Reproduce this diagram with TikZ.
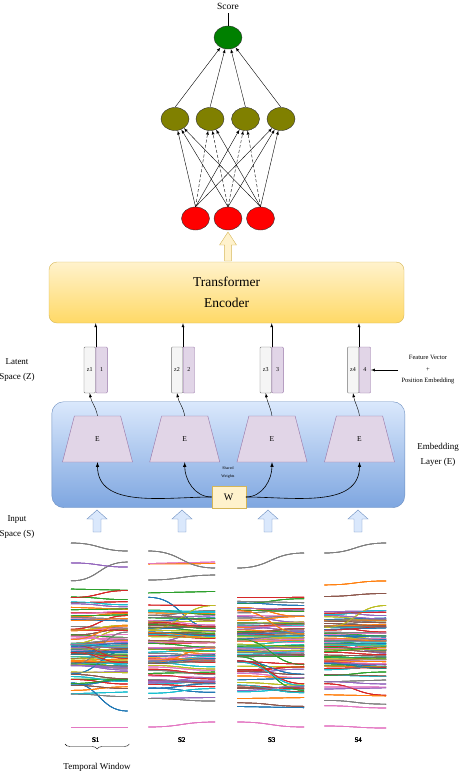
\documentclass[tikz,border=0pt]{standalone}
\usepackage{fontspec}
\setmainfont{Liberation Serif}
\usetikzlibrary{arrows,shapes.geometric,decorations.pathreplacing}
\definecolor{tab0}{HTML}{1F77B4}\definecolor{tab1}{HTML}{FF7F0E}
\definecolor{tab2}{HTML}{2CA02C}\definecolor{tab3}{HTML}{D62728}
\definecolor{tab4}{HTML}{9467BD}\definecolor{tab5}{HTML}{8C564B}
\definecolor{tab6}{HTML}{E377C2}\definecolor{tab7}{HTML}{7F7F7F}
\definecolor{tab8}{HTML}{BCBD22}\definecolor{tab9}{HTML}{17BECF}
\definecolor{ylwF}{HTML}{FFF2CC}\definecolor{ylwB}{HTML}{FFD966}\definecolor{ylwD}{HTML}{D6B656}
\definecolor{bluF}{HTML}{DAE8FC}\definecolor{bluB}{HTML}{7EA6E0}\definecolor{bluD}{HTML}{6C8EBF}
\definecolor{prpF}{HTML}{E1D5E7}\definecolor{prpD}{HTML}{9673A6}
\definecolor{olv}{HTML}{808000}\definecolor{grn}{HTML}{008000}
\newcommand\fs[2]{\fontsize{#1}{#2}\selectfont}
% block arrow: x, tip y, base y, half head, head length, style
\newcommand\blockup[6]{\draw[#6](#1,#2)--({#1+#4},{#2+#5})--({#1+0.4*#4},{#2+#5})--({#1+0.4*#4},#3)
  --({#1-0.4*#4},#3)--({#1-0.4*#4},{#2+#5})--({#1-#4},{#2+#5})--cycle;}

\begin{document}
\begin{tikzpicture}[x=1pt,y=-1pt,thin,>=latex,
  neuron/.style={ellipse,draw=black!80,minimum width=28pt,minimum height=23pt,inner sep=0pt},
  feat/.style={draw=black!55,fill=black!4,rounded corners=1pt,minimum width=11.5pt,minimum height=46pt,inner sep=0pt,font=\fs{6}{7}},
  posn/.style={feat,draw=prpD,fill=prpF},
  enc/.style={trapezium,trapezium angle=76.5,trapezium stretches=true,minimum width=70pt,minimum height=46pt,
    inner sep=0pt,draw=prpD,fill=prpF,font=\fs{7.5}{8}},
  side/.style={align=center,font=\fs{9}{15}},
  sig/.style={line width=0.7pt}]
\useasboundingbox (0,0) rectangle (460,774);
% score network
\node[font=\fs{9.5}{10}] (Sc) at (228,6) {Score};
\node[neuron,fill=grn] (G) at (228,37.5) {};
\foreach \i/\x in {1/175,2/210,3/245.5,4/281} \node[neuron,fill=olv] (O\i) at (\x,119) {};
\foreach \i/\x in {1/195.5,2/228,3/260.5} \node[neuron,fill=red] (R\i) at (\x,218.5) {};
\draw (G.north)--(Sc.south);
\foreach \i in {1,...,4} \draw[->] (O\i.north)--(G);
\foreach \j/\i in {1/1,1/3,1/4,2/1,2/4,3/1,3/2,3/4} \draw[->] (R\j.north)--(O\i);
\foreach \j/\i in {1/2,2/2,2/3,3/3} \draw[->,densely dashed] (R\j.north)--(O\i);
\blockup{228}{232}{261}{8.5}{13}{fill=ylwF,draw=ylwD}
% transformer
\node[draw=ylwD,top color=ylwF,bottom color=ylwB,rounded corners=8pt,minimum width=355pt,minimum height=61pt,
  align=center,font=\fs{13.5}{21}] (T) at (226.5,292.5) {Transformer\\Encoder};
% embedding layer
\node[draw=bluD,top color=bluF,bottom color=bluB,rounded corners=12pt,minimum width=353pt,minimum height=106pt] (EL) at (228.3,454.7) {};
\foreach \i/\x/\e in {1/95.7/97.5,2/183/184.7,3/271.7/272,4/359/359.5}{
  \node[feat,anchor=east] (z\i) at (\x,370) {z\i};
  \node[posn,anchor=west] (p\i) at (\x,370) {\i};
  \node[enc] (E\i) at (\e,439) {E};
  \draw[->] (z\i.north east)--(z\i.north east |- T.south);
  \draw[->] (E\i.north) to[out=100,in=-80] (z\i.south);
}
\node[draw=ylwD,fill=ylwF,minimum width=34pt,minimum height=21.7pt,inner sep=0pt,font=\fs{10}{10}] (W) at (228.7,497) {W};
\node[align=center,font=\fs{4}{8}] (sw) at (228,473) {Shared\\Weights};
\draw[->,semithick] (W.west) to[out=180,in=-90] (E1.south);
\draw[->,semithick] (W.west) to[out=180,in=-90] (E2.south);
\draw[->,semithick] (W.east) to[out=0,in=-90] (E3.south);
\draw[->,semithick] (W.east) to[out=0,in=-90] (E4.south);
\node[align=center,font=\fs{6.5}{11.5}] (fv) at (428,370) {Feature Vector\\+\\Position Embedding};
\draw[->] (fv.west)--(p4.east);
\node[side] (ls) at (17,370) {Latent\\Space (Z)};
\node[side] (eb) at (438,455) {Embedding\\Layer (E)};
\node[side] (is) at (17,527) {Input\\Space (S)};
\foreach \x in {97,182,268,358} \blockup{\x}{510}{532}{10}{9}{fill=bluF,draw=bluD}
% input series
\foreach \xa/\xb/\ga/\gb/\pa/\pb/\sd/\xl/\n in {71/127.7/543/551/727/727/11/95.7/1,148.3/215/551/568/727/722/23/181.7/2,
    237.3/304/568/553/722/727/37/271.7/3,324.3/386/553/543/726/728/41/358.3/4}{
  \pgfmathsetseed{\sd}
  \foreach \k in {1,...,84}{
    \pgfmathsetmacro\ya{\k<15 ? 562+150*rnd : 648+27*(rand+rand)}
    \pgfmathsetmacro\yb{max(562,min(714,\ya+(rnd<0.08 ? 34*rand : 5*rand)))}
    \pgfmathtruncatemacro\c{mod(\k,10)}
    \draw[sig,color=tab\c] (\xa,\ya) .. controls ({(\xa+\xb)/2},\ya) and ({(\xa+\xb)/2},\yb) .. (\xb,\yb);
  }
  \draw[sig,color=tab7] (\xa,\ga) .. controls ({(\xa+\xb)/2},\ga) and ({(\xa+\xb)/2},\gb) .. (\xb,\gb);
  \draw[sig,color=tab6] (\xa,\pa) .. controls ({(\xa+\xb)/2},\pa) and ({(\xa+\xb)/2},\pb) .. (\xb,\pb);
  \node[font=\fs{7}{8}] (s\n) at (\xl,740) {S\n};
}
\coordinate (bl) at (65,744);
\coordinate (br) at (129.3,744);
\draw[decorate,decoration={brace,mirror,amplitude=5pt}] (bl)--(br);
\node[font=\fs{9}{10}] (tw) at (97,767) {Temporal Window};
\end{tikzpicture}
\end{document}
